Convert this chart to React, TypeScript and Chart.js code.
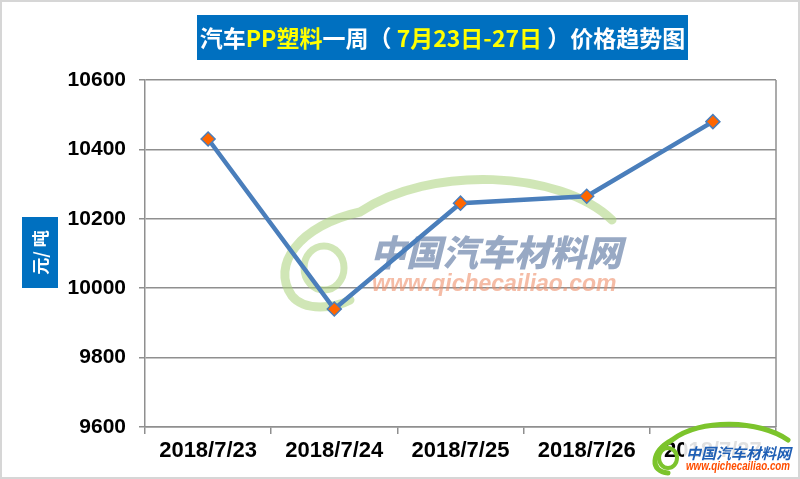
import React, { useEffect, useRef } from "react";
import { Chart, registerables } from "chart.js";

Chart.register(...registerables);

// Weekly PP plastic price (yuan / tonne)
const dates = ["2018/7/23", "2018/7/24", "2018/7/25", "2018/7/26", "2018/7/27"];
const prices = [10430, 9940, 10245, 10265, 10480];
const yTicks = [9600, 9800, 10000, 10200, 10400, 10600];

const titleParts: [string, string][] = [
  ["汽车", "#ffffff"],
  ["PP塑料", "#ffff00"],
  ["一周（ ", "#ffffff"],
  ["7月23日-27日", "#ffff00"],
  [" ）价格趋势图", "#ffffff"],
];
const unitLabel = "元/ 吨";
const siteName = "中国汽车材料网";
const siteUrl = "www.qichecailiao.com";

const CJK = '"Noto Sans CJK SC", "Noto Sans", sans-serif';
const LATIN = '"Liberation Sans", Arial, sans-serif';
const GRID = "#8f8f8f";

const decor = {
  id: "decor",
  beforeDatasetsDraw(chart: any) {
    const { ctx, chartArea } = chart;
    ctx.save();
    // right edge of the plot frame
    ctx.strokeStyle = GRID;
    ctx.lineWidth = 1.5;
    ctx.beginPath();
    ctx.moveTo(chartArea.right, chartArea.top);
    ctx.lineTo(chartArea.right, chartArea.bottom);
    ctx.stroke();

    // faint site watermark in the middle of the plot
    ctx.globalAlpha = 0.55;
    ctx.strokeStyle = "#a9d27a";
    ctx.lineCap = "round";
    ctx.lineWidth = 9;
    ctx.beginPath();
    ctx.moveTo(612, 220);
    ctx.bezierCurveTo(560, 170, 430, 165, 360, 212);
    ctx.bezierCurveTo(300, 225, 270, 265, 292, 296);
    ctx.bezierCurveTo(305, 312, 335, 308, 350, 300);
    ctx.stroke();
    ctx.lineWidth = 7;
    ctx.beginPath();
    ctx.ellipse(324, 268, 20, 22, 0, 0, Math.PI * 2);
    ctx.stroke();

    ctx.globalAlpha = 0.6;
    ctx.fillStyle = "#54709c";
    ctx.textBaseline = "middle";
    ctx.textAlign = "left";
    ctx.font = `italic 900 36px ${CJK}`;
    ctx.fillText(siteName, 370, 252, 268);
    ctx.fillStyle = "#ee8f6a";
    ctx.font = `italic bold 23px ${LATIN}`;
    ctx.fillText(siteUrl, 372, 285, 262);
    ctx.restore();
  },
  afterDraw(chart: any) {
    const { ctx, width, height } = chart;
    ctx.save();

    // title banner
    ctx.fillStyle = "#0070c0";
    ctx.fillRect(197, 15, 491, 45);
    ctx.font = `bold 23px ${CJK}`;
    ctx.textBaseline = "middle";
    ctx.textAlign = "left";
    const total = titleParts.reduce((s, [t]) => s + ctx.measureText(t).width, 0);
    let x = 442.5 - total / 2;
    for (const [t, c] of titleParts) {
      ctx.fillStyle = c;
      ctx.fillText(t, x, 38);
      x += ctx.measureText(t).width;
    }

    // unit box on the left
    ctx.fillStyle = "#0070c0";
    ctx.fillRect(22, 217, 36, 71);
    ctx.translate(40, 252.5);
    ctx.rotate(-Math.PI / 2);
    ctx.fillStyle = "#ffffff";
    ctx.font = `bold 17px ${CJK}`;
    ctx.textAlign = "center";
    ctx.fillText(unitLabel, 0, 1);
    ctx.setTransform(1, 0, 0, 1, 0, 0);

    // corner logo
    ctx.fillStyle = "rgba(255,255,255,0.88)";
    ctx.fillRect(684, 440, 110, 34);
    ctx.strokeStyle = "#7cc42c";
    ctx.lineCap = "round";
    ctx.lineWidth = 5;
    ctx.beginPath();
    ctx.moveTo(788, 440);
    ctx.bezierCurveTo(760, 420, 700, 418, 672, 440);
    ctx.bezierCurveTo(650, 452, 650, 472, 668, 473);
    ctx.stroke();
    ctx.lineWidth = 4;
    ctx.beginPath();
    ctx.ellipse(668, 458, 9, 10, 0, 0, Math.PI * 2);
    ctx.stroke();
    ctx.textAlign = "left";
    ctx.fillStyle = "#1f5fb5";
    ctx.font = `italic bold 15px ${CJK}`;
    ctx.fillText(siteName, 686, 453, 106);
    ctx.fillStyle = "#ff4d00";
    ctx.font = `italic bold 12px ${LATIN}`;
    ctx.fillText(siteUrl, 686, 467, 104);

    // outer frame
    ctx.strokeStyle = "#d6d6d6";
    ctx.lineWidth = 2;
    ctx.strokeRect(1, 1, width - 2, height - 2);
    ctx.restore();
  },
};

export default function App() {
  const ref = useRef<HTMLCanvasElement>(null);

  useEffect(() => {
    const canvas = ref.current!;
    const chart = new Chart(canvas, {
      type: "line",
      data: {
        labels: dates,
        datasets: [
          {
            data: prices,
            borderColor: "#4a7ebb",
            borderWidth: 4.5,
            pointStyle: "rectRot",
            pointRadius: 7,
            pointBackgroundColor: "#ff6600",
            pointBorderColor: "#4a7ebb",
            pointBorderWidth: 1.5,
            tension: 0,
          },
        ],
      },
      options: {
        responsive: false,
        animation: false,
        devicePixelRatio: 1,
        layout: { padding: { top: 80, right: 24, left: 0, bottom: 0 } },
        plugins: {
          legend: { display: false },
          title: { display: false },
          tooltip: { enabled: false },
        },
        scales: {
          x: {
            offset: true,
            grid: {
              offset: true,
              drawOnChartArea: false,
              color: GRID,
              lineWidth: 1.5,
              tickLength: 7,
            },
            border: { color: GRID, width: 1.5 },
            ticks: {
              color: "#000",
              font: { family: LATIN, size: 22, weight: "bold" },
              padding: 4,
              maxRotation: 0,
            },
            afterFit: (s: any) => {
              s.height = 52;
            },
          },
          y: {
            min: yTicks[0],
            max: yTicks[yTicks.length - 1],
            afterBuildTicks: (s: any) => {
              s.ticks = yTicks.map((v) => ({ value: v }));
            },
            grid: { color: GRID, lineWidth: 1.5, tickLength: 6 },
            border: { color: GRID, width: 1.5 },
            ticks: {
              color: "#000",
              font: { family: LATIN, size: 21, weight: "bold" },
              padding: 13,
              callback: (v: any) => String(v),
            },
            afterFit: (s: any) => {
              s.width = 145;
            },
          },
        },
      },
      plugins: [decor],
    });
    return () => chart.destroy();
  }, []);

  return (
    <div style={{ position: "fixed", left: 0, top: 0, width: 800, height: 479, background: "#fff" }}>
      <canvas ref={ref} width={800} height={479} style={{ display: "block", width: 800, height: 479 }} />
    </div>
  );
}
